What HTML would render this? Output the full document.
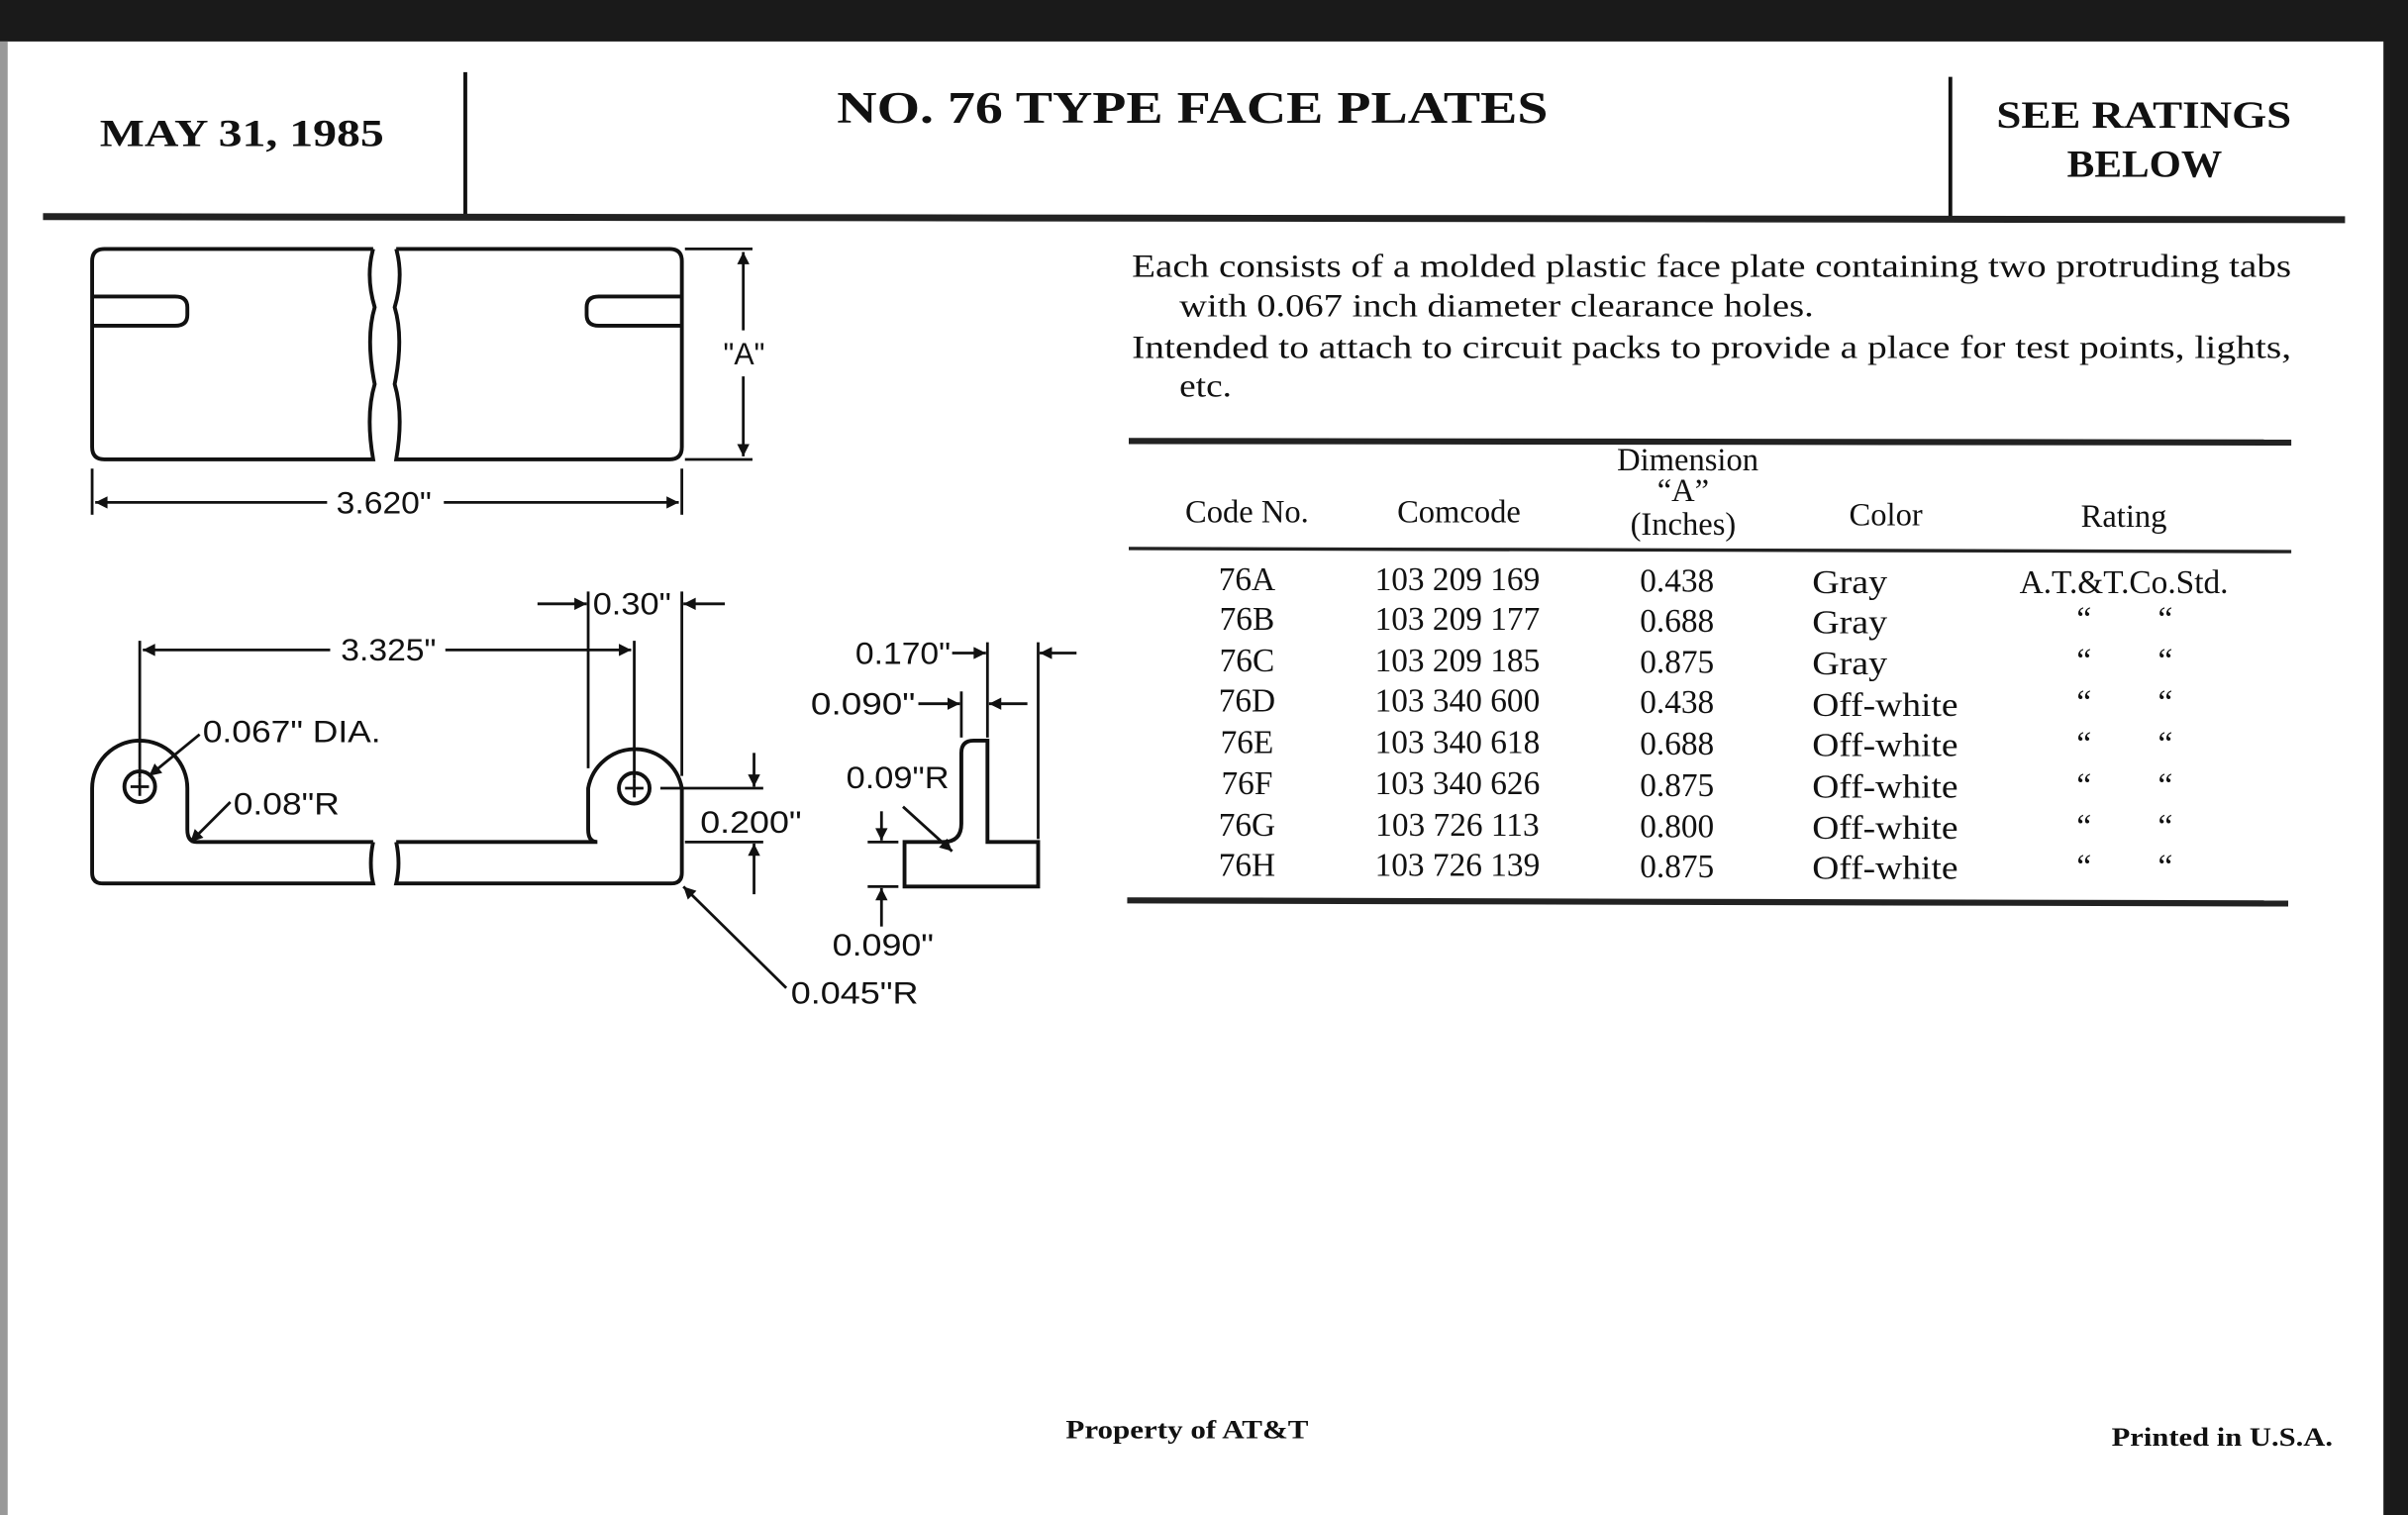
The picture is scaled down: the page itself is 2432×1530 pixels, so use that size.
<!DOCTYPE html>
<html><head><meta charset="utf-8"><style>
html,body{margin:0;padding:0;background:#fff;}
svg{display:block;}
.s{font-family:"Liberation Serif",serif;fill:#111;}
.a{font-family:"Liberation Sans",sans-serif;fill:#111;font-size:20px;}
</style></head><body>
<svg width="2432" height="1530" viewBox="0 0 1568 986" preserveAspectRatio="none" xmlns="http://www.w3.org/2000/svg">
<defs>
<marker id="ar" viewBox="0 0 10 10" refX="10" refY="5" markerWidth="11" markerHeight="8" orient="auto-start-reverse" markerUnits="userSpaceOnUse"><path d="M0,0 L10,5 L0,10 z" fill="#111"/></marker>
</defs>
<rect width="1568" height="986" fill="#fff"/>
<rect x="0" y="0" width="1568" height="27" fill="#1a1a1a"/>
<rect x="1552" y="0" width="16" height="986" fill="#1a1a1a"/>
<rect x="0" y="27" width="5" height="959" fill="#999"/>

<!-- header -->
<text class="s" x="65" y="95" font-size="25" font-weight="bold" textLength="185" lengthAdjust="spacingAndGlyphs">MAY 31, 1985</text>
<line x1="303" y1="47" x2="303" y2="140" stroke="#111" stroke-width="2.5"/>
<text class="s" x="545" y="80" font-size="29" font-weight="bold" textLength="463" lengthAdjust="spacingAndGlyphs">NO. 76 TYPE FACE PLATES</text>
<line x1="1270" y1="50" x2="1270" y2="143" stroke="#111" stroke-width="2.5"/>
<text class="s" x="1300" y="83" font-size="25" font-weight="bold" textLength="192" lengthAdjust="spacingAndGlyphs">SEE RATINGS</text>
<text class="s" x="1346" y="115" font-size="25" font-weight="bold" textLength="101" lengthAdjust="spacingAndGlyphs">BELOW</text>
<line x1="28" y1="141" x2="1527" y2="143" stroke="#222" stroke-width="4.5"/>

<!-- top drawing -->
<g fill="none" stroke="#111" stroke-width="2.5">
<path d="M243,162 L68,162 Q60,162 60,170 L60,291 Q60,299 68,299 L243,299 Q238,270 244,250 Q238,220 244,200 Q238,180 243,162"/>
<path d="M258,162 L436,162 Q444,162 444,170 L444,291 Q444,299 436,299 L258,299 Q263,270 257,250 Q263,220 257,200 Q263,180 258,162"/>
<path d="M60,193 L114,193 Q122,193 122,200 L122,205 Q122,212 114,212 L60,212"/>
<path d="M444,193 L390,193 Q382,193 382,200 L382,205 Q382,212 390,212 L444,212"/>
</g>
<g stroke="#111" stroke-width="1.8" fill="none">
<line x1="446" y1="162" x2="490" y2="162"/><line x1="446" y1="299" x2="490" y2="299"/>
<line x1="484" y1="164" x2="484" y2="215" marker-start="url(#ar)"/>
<line x1="484" y1="245" x2="484" y2="297" marker-end="url(#ar)"/>
<line x1="60" y1="305" x2="60" y2="335"/><line x1="444" y1="305" x2="444" y2="335"/>
<line x1="62" y1="327" x2="213" y2="327" marker-start="url(#ar)"/>
<line x1="289" y1="327" x2="442" y2="327" marker-end="url(#ar)"/>
</g>
<text class="a" x="471" y="237" textLength="27" lengthAdjust="spacingAndGlyphs">"A"</text>
<text class="a" x="219" y="334" textLength="62" lengthAdjust="spacingAndGlyphs">3.620"</text>

<!-- bottom drawing -->
<g fill="none" stroke="#111" stroke-width="2.5">
<path d="M243,548 L128,548 Q122,548 122,540 L122,513 A31,31 0 0 0 60,513 L60,568 Q60,575 67,575 L243,575 Q240,562 243,548"/>
<path d="M258,548 L389,548 Q383,548 383,540 L383,513 A31,31 0 0 1 444,513 L444,568 Q444,575 437,575 L258,575 Q261,562 258,548"/>
<circle cx="91" cy="512" r="10"/><circle cx="413" cy="513" r="10"/>
<path d="M589,548 L614,548 Q626,548 626,536 L626,490 Q626,482 634,482 L643,482 L643,548 L676,548 L676,577 L589,577 Z"/>
</g>
<g stroke="#111" stroke-width="1.8" fill="none">
<line x1="85" y1="512" x2="97" y2="512"/><line x1="91" y1="506" x2="91" y2="518"/>
<line x1="407" y1="513" x2="419" y2="513"/><line x1="413" y1="507" x2="413" y2="519"/>
<line x1="91" y1="417" x2="91" y2="506"/><line x1="413" y1="417" x2="413" y2="507"/>
<line x1="93" y1="423" x2="215" y2="423" marker-start="url(#ar)"/>
<line x1="290" y1="423" x2="411" y2="423" marker-end="url(#ar)"/>
<line x1="383" y1="385" x2="383" y2="500"/><line x1="444" y1="385" x2="444" y2="505"/>
<line x1="350" y1="393" x2="382" y2="393" marker-end="url(#ar)"/>
<line x1="472" y1="393" x2="445" y2="393" marker-end="url(#ar)"/>
<line x1="130" y1="478" x2="97" y2="505" marker-end="url(#ar)"/>
<line x1="150" y1="522" x2="124" y2="548" marker-end="url(#ar)"/>
<line x1="430" y1="513" x2="497" y2="513"/><line x1="446" y1="548" x2="497" y2="548"/>
<line x1="491" y1="490" x2="491" y2="512" marker-end="url(#ar)"/>
<line x1="491" y1="582" x2="491" y2="549" marker-end="url(#ar)"/>
<line x1="512" y1="643" x2="445" y2="577" marker-end="url(#ar)"/>
<line x1="643" y1="418" x2="643" y2="480"/><line x1="676" y1="418" x2="676" y2="546"/>
<line x1="620" y1="425" x2="642" y2="425" marker-end="url(#ar)"/>
<line x1="701" y1="425" x2="677" y2="425" marker-end="url(#ar)"/>
<line x1="626" y1="450" x2="626" y2="480"/>
<line x1="598" y1="458" x2="625" y2="458" marker-end="url(#ar)"/>
<line x1="669" y1="458" x2="644" y2="458" marker-end="url(#ar)"/>
<line x1="588" y1="525" x2="620" y2="554" marker-end="url(#ar)"/>
<line x1="565" y1="548" x2="585" y2="548"/><line x1="565" y1="577" x2="585" y2="577"/>
<line x1="574" y1="528" x2="574" y2="547" marker-end="url(#ar)"/>
<line x1="574" y1="603" x2="574" y2="578" marker-end="url(#ar)"/>
</g>
<g class="a" lengthAdjust="spacingAndGlyphs">
<text x="222" y="430" textLength="62" lengthAdjust="spacingAndGlyphs">3.325"</text>
<text x="386" y="400" textLength="51" lengthAdjust="spacingAndGlyphs">0.30"</text>
<text x="132" y="483" textLength="116" lengthAdjust="spacingAndGlyphs">0.067" DIA.</text>
<text x="152" y="530" textLength="69" lengthAdjust="spacingAndGlyphs">0.08"R</text>
<text x="456" y="542" textLength="66" lengthAdjust="spacingAndGlyphs">0.200"</text>
<text x="515" y="653" textLength="83" lengthAdjust="spacingAndGlyphs">0.045"R</text>
<text x="557" y="432" textLength="62" lengthAdjust="spacingAndGlyphs">0.170"</text>
<text x="528" y="465" textLength="68" lengthAdjust="spacingAndGlyphs">0.090"</text>
<text x="551" y="513" textLength="67" lengthAdjust="spacingAndGlyphs">0.09"R</text>
<text x="542" y="622" textLength="66" lengthAdjust="spacingAndGlyphs">0.090"</text>
</g>

<!-- paragraph -->
<g class="s" font-size="21">
<text x="737" y="180" textLength="755" lengthAdjust="spacingAndGlyphs">Each consists of a molded plastic face plate containing two protruding tabs</text>
<text x="768" y="206" textLength="413" lengthAdjust="spacingAndGlyphs">with 0.067 inch diameter clearance holes.</text>
<text x="737" y="233" textLength="755" lengthAdjust="spacingAndGlyphs">Intended to attach to circuit packs to provide a place for test points, lights,</text>
<text x="768" y="258" textLength="34" lengthAdjust="spacingAndGlyphs">etc.</text>
</g>

<!-- table -->
<line x1="735" y1="287" x2="1492" y2="288" stroke="#222" stroke-width="4"/>
<line x1="735" y1="357" x2="1492" y2="359" stroke="#222" stroke-width="2.2"/>
<line x1="734" y1="586" x2="1490" y2="588" stroke="#222" stroke-width="4"/>
<g class="s" font-size="21" text-anchor="middle">
<text x="1099" y="306">Dimension</text>
<text x="1096" y="326">“A”</text>
<text x="1096" y="348">(Inches)</text>
<text x="812" y="340">Code No.</text>
<text x="950" y="340">Comcode</text>
<text x="1228" y="342">Color</text>
<text x="1383" y="343">Rating</text>
</g>
<g class="s" font-size="21.5">
<g text-anchor="middle">
<text x="812" y="384">76A</text><text x="949" y="384">103 209 169</text><text x="1092" y="385">0.438</text>
<text x="812" y="410">76B</text><text x="949" y="410">103 209 177</text><text x="1092" y="411">0.688</text>
<text x="812" y="437">76C</text><text x="949" y="437">103 209 185</text><text x="1092" y="438">0.875</text>
<text x="812" y="463">76D</text><text x="949" y="463">103 340 600</text><text x="1092" y="464">0.438</text>
<text x="812" y="490">76E</text><text x="949" y="490">103 340 618</text><text x="1092" y="491">0.688</text>
<text x="812" y="517">76F</text><text x="949" y="517">103 340 626</text><text x="1092" y="518">0.875</text>
<text x="812" y="544">76G</text><text x="949" y="544">103 726 113</text><text x="1092" y="545">0.800</text>
<text x="812" y="570">76H</text><text x="949" y="570">103 726 139</text><text x="1092" y="571">0.875</text>
<text x="1383" y="386">A.T.&amp;T.Co.Std.</text>
<text x="1357" y="410">“</text><text x="1410" y="410">“</text>
<text x="1357" y="437">“</text><text x="1410" y="437">“</text>
<text x="1357" y="464">“</text><text x="1410" y="464">“</text>
<text x="1357" y="491">“</text><text x="1410" y="491">“</text>
<text x="1357" y="518">“</text><text x="1410" y="518">“</text>
<text x="1357" y="545">“</text><text x="1410" y="545">“</text>
<text x="1357" y="571">“</text><text x="1410" y="571">“</text>
</g>
<text x="1180" y="386" textLength="49" lengthAdjust="spacingAndGlyphs">Gray</text>
<text x="1180" y="412" textLength="49" lengthAdjust="spacingAndGlyphs">Gray</text>
<text x="1180" y="439" textLength="49" lengthAdjust="spacingAndGlyphs">Gray</text>
<text x="1180" y="466" textLength="95" lengthAdjust="spacingAndGlyphs">Off-white</text>
<text x="1180" y="492" textLength="95" lengthAdjust="spacingAndGlyphs">Off-white</text>
<text x="1180" y="519" textLength="95" lengthAdjust="spacingAndGlyphs">Off-white</text>
<text x="1180" y="546" textLength="95" lengthAdjust="spacingAndGlyphs">Off-white</text>
<text x="1180" y="572" textLength="95" lengthAdjust="spacingAndGlyphs">Off-white</text>
</g>

<!-- footer -->
<text class="s" x="694" y="936" font-size="17" font-weight="bold" textLength="158" lengthAdjust="spacingAndGlyphs">Property of AT&amp;T</text>
<text class="s" x="1375" y="941" font-size="17" font-weight="bold" textLength="144" lengthAdjust="spacingAndGlyphs">Printed in U.S.A.</text>
</svg>
</body></html>
